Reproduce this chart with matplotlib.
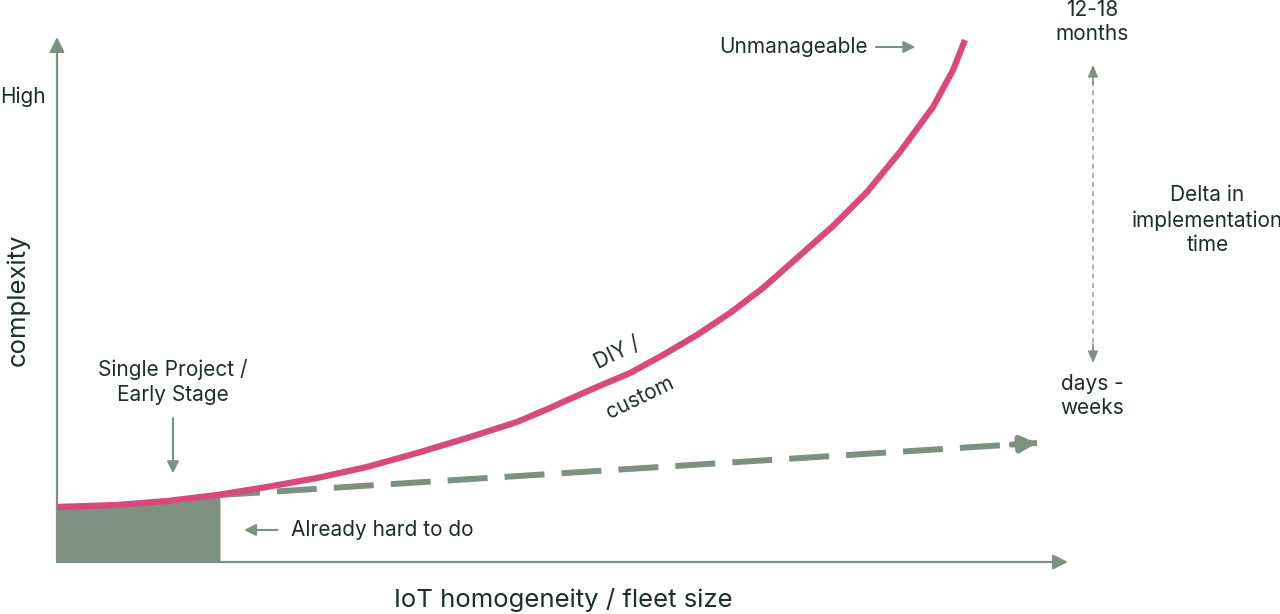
import matplotlib
matplotlib.use("Agg")
import matplotlib.pyplot as plt
import numpy as np

plt.rcParams['font.family'] = ['Inter', 'DejaVu Sans']

# ---- data (x: fleet size 0-100, y: complexity 0-100) ----
diy_x = [0, 5.93, 10.88, 15.83, 20.77, 25.72, 30.66, 35.61, 40.55, 45.50, 48.76,
         50.05, 53.41, 56.68, 59.94, 63.30, 66.57, 69.83, 73.19, 76.76, 80.12,
         83.38, 86.65, 88.63, 89.81]
diy_y = [10.48, 10.86, 11.62, 12.76, 14.29, 16.0, 18.10, 20.76, 23.62, 26.67, 29.33,
         30.48, 33.33, 36.0, 39.43, 43.24, 47.43, 52.19, 57.90, 64.0, 70.48,
         78.10, 86.67, 93.71, 99.43]
platform_x = [16.12, 96.93]
platform_y = [12.76, 22.67]
early_stage_end = 16.12

PINK = '#d94a7c'
GREEN = '#7e9082'
TEXT = '#1f2d2a'

fig = plt.figure(figsize=(12.8, 6.14), dpi=100)
ax = fig.add_axes([57/1280, (614-562)/614, (1068-57)/1280, (562-37)/614])
ax.set_xlim(0, 100)
ax.set_ylim(0, 100)
ax.axis('off')

# shaded early-stage box under the curve
bx = [x for x in diy_x if x < early_stage_end] + [early_stage_end]
by = [y for x, y in zip(diy_x, diy_y) if x < early_stage_end] + \
     [float(np.interp(early_stage_end, diy_x, diy_y))]
ax.fill_between(bx, 0, by, color=GREEN, lw=0, zorder=1, clip_on=False)

# axes arrows
for start, end in [((0, 0), (100, 0)), ((0, 0), (0, 100))]:
    ax.annotate('', xy=end, xytext=start,
                arrowprops=dict(arrowstyle='-|>,head_length=0.9,head_width=0.45',
                                color=GREEN, lw=1.6, shrinkA=0, shrinkB=0),
                annotation_clip=False)

# DIY curve
ax.plot(diy_x, diy_y, color=PINK, lw=4.5, solid_capstyle='butt',
        solid_joinstyle='round', zorder=3, clip_on=False)

# platform dashed line with arrow
ax.plot(platform_x, platform_y, color=GREEN, lw=4.3,
        dashes=(6.7, 2.85), zorder=2, clip_on=False)
slope = (platform_y[1] - platform_y[0]) / (platform_x[1] - platform_x[0])
ax.annotate('', xy=(platform_x[1], platform_y[1]),
            xytext=(platform_x[1] - 2.5, platform_y[1] - 2.5 * slope),
            arrowprops=dict(arrowstyle='-|>,head_length=0.9,head_width=0.45',
                            color=GREEN, lw=4.3, shrinkA=0, shrinkB=0),
            annotation_clip=False)

# texts
fs = 15
ls = 1.28
ax.text(-5.64, 88.57, 'High', fontsize=fs, color=TEXT, ha='left', va='center')
ax.text(-3.9, 49.9, 'complexity', fontsize=18.5, color=TEXT, ha='center', va='center',
        rotation=90)
ax.text(50.05, -7.3, 'IoT homogeneity / fleet size', fontsize=18.5, color=TEXT,
        ha='center', va='center')

ax.text(11.47, 34.3, 'Single Project /\nEarly Stage', fontsize=fs, color=TEXT,
        ha='center', va='center', linespacing=ls)
ax.annotate('', xy=(11.47, 16.9), xytext=(11.47, 27.4),
            arrowprops=dict(arrowstyle='-|>,head_length=0.7,head_width=0.35',
                            color=GREEN, lw=1.5, shrinkA=0, shrinkB=0),
            annotation_clip=False)

ax.text(23.15, 6.1, 'Already hard to do', fontsize=fs, color=TEXT, ha='left', va='center')
ax.annotate('', xy=(18.5, 6.1), xytext=(21.8, 6.1),
            arrowprops=dict(arrowstyle='-|>,head_length=0.7,head_width=0.35',
                            color=GREEN, lw=1.5, shrinkA=0, shrinkB=0),
            annotation_clip=False)

ax.text(55.4, 39.8, 'DIY /', fontsize=fs, color=TEXT, ha='center', va='center', rotation=26)
ax.text(57.7, 31.3, 'custom', fontsize=fs, color=TEXT, ha='center', va='center', rotation=26)

ax.text(80.2, 98.1, 'Unmanageable', fontsize=fs, color=TEXT, ha='right', va='center')
ax.annotate('', xy=(84.9, 98.1), xytext=(81.0, 98.1),
            arrowprops=dict(arrowstyle='-|>,head_length=0.7,head_width=0.35',
                            color=GREEN, lw=1.5, shrinkA=0, shrinkB=0),
            annotation_clip=False)

ax.text(102.4, 102.9, '12-18\nmonths', fontsize=fs, color=TEXT, ha='center', va='center',
        linespacing=ls)
ax.text(102.4, 31.6, 'days -\nweeks', fontsize=fs, color=TEXT, ha='center', va='center',
        linespacing=ls)
ax.text(113.8, 65.1, 'Delta in\nimplementation\ntime', fontsize=fs, color=TEXT,
        ha='center', va='center', linespacing=ls)

# double-headed dashed arrow
ax.plot([102.47, 102.47], [40.0, 92.5], color='#9aa59d', lw=1.2, dashes=(3, 2.5),
        clip_on=False)
for tip, tail in [((102.47, 94.67), (102.47, 91.0)), ((102.47, 37.9), (102.47, 41.5))]:
    ax.annotate('', xy=tip, xytext=tail,
                arrowprops=dict(arrowstyle='-|>,head_length=0.7,head_width=0.3',
                                color=GREEN, lw=1.2, shrinkA=0, shrinkB=0),
                annotation_clip=False)

fig.savefig('out.png', dpi=100, facecolor='white')
